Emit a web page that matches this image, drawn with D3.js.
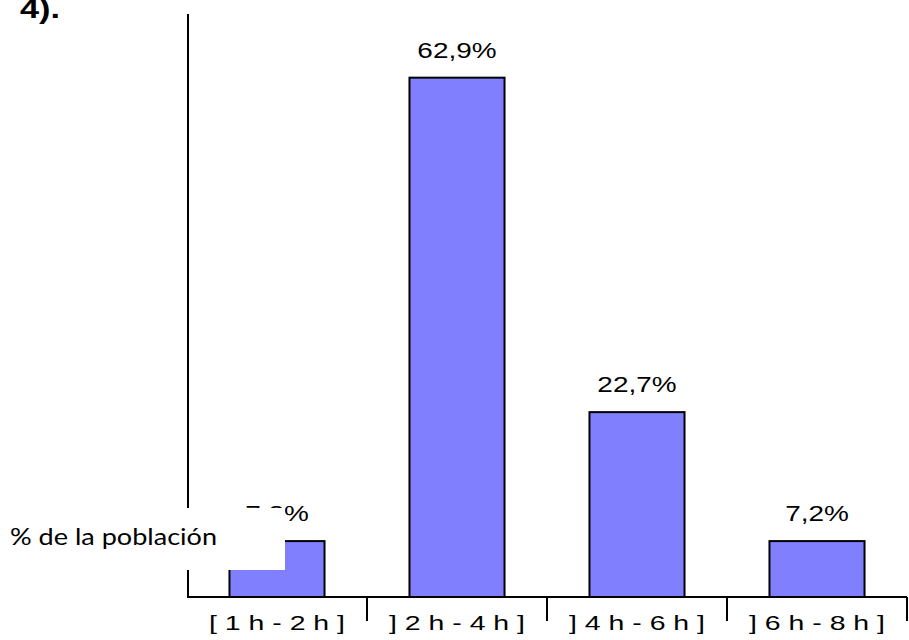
<!DOCTYPE html>
<html>
<head>
<meta charset="utf-8">
<script src="https://cdn.jsdelivr.net/npm/d3@7"></script>
<style>
  html, body { margin: 0; padding: 0; background: #fff; }
  svg { display: block; }
</style>
</head>
<body>
<svg id="chart" width="909" height="640"></svg>
<script>
// Sleep duration ranges and share of the population in each
const categories = ["[ 1 h - 2 h ]", "] 2 h - 4 h ]", "] 4 h - 6 h ]", "] 6 h - 8 h ]"];
const values = [7.2, 62.9, 22.7, 7.2];
const valueLabels = ["7,2%", "62,9%", "22,7%", "7,2%"];
const yDomain = [0, 70];
const axisTitle = "% de la población";
const headingText = "4).";

const svg = d3.select("#chart");
const armFont = "'Liberation Sans', Arial, sans-serif";

const x = d3.scaleBand()
  .domain(categories)
  .range([187, 907])
  .paddingInner(0.472)
  .paddingOuter(0.236);

const y = d3.scaleLinear().domain(yDomain).range([601, 18.6]);
const baseY = 597;   // horizontal axis line

// Widen text horizontally by a factor
function stretch(sel, factor) {
  sel.each(function () {
    const w = this.getComputedTextLength();
    d3.select(this).attr("textLength", w * factor).attr("lengthAdjust", "spacingAndGlyphs");
  });
}

// heading fragment at top-left
svg.append("text")
  .attr("x", 20).attr("y", 18)
  .attr("font-family", armFont).attr("font-weight", "bold").attr("font-size", 27)
  .attr("textLength", 40).attr("lengthAdjust", "spacingAndGlyphs")
  .text(headingText);

// bars
svg.append("g").selectAll("rect")
  .data(values)
  .join("rect")
  .attr("x", (d, i) => x(categories[i]))
  .attr("width", x.bandwidth())
  .attr("y", d => y(d))
  .attr("height", d => baseY - y(d))
  .attr("fill", "#8080FF")
  .attr("stroke", "#000")
  .attr("stroke-width", 2);

// value labels
svg.append("g").selectAll("text")
  .data(values)
  .join("text")
  .attr("x", (d, i) => x(categories[i]) + x.bandwidth() / 2)
  .attr("y", d => y(d) - 20)
  .attr("text-anchor", "middle")
  .attr("font-family", armFont)
  .attr("font-size", 22)
  .attr("fill", "#000")
  .text((d, i) => valueLabels[i])
  .call(stretch, 1.27);

// y axis line
svg.append("line")
  .attr("x1", 188).attr("x2", 188)
  .attr("y1", 14).attr("y2", baseY + 1)
  .attr("stroke", "#000").attr("stroke-width", 2);

// x axis line with ticks at the band boundaries
const xAxis = svg.append("g");
xAxis.append("line")
  .attr("x1", 187).attr("x2", 907)
  .attr("y1", baseY).attr("y2", baseY)
  .attr("stroke", "#000").attr("stroke-width", 2);
xAxis.selectAll("line.tick")
  .data(categories)
  .join("line")
  .attr("class", "tick")
  .attr("x1", d => x(d) - x.step() * x.paddingInner() / 2 + x.step())
  .attr("x2", d => x(d) - x.step() * x.paddingInner() / 2 + x.step())
  .attr("y1", baseY).attr("y2", baseY + 24)
  .attr("stroke", "#000").attr("stroke-width", 2);

// category labels
xAxis.selectAll("text")
  .data(categories)
  .join("text")
  .attr("x", d => x(d) + x.bandwidth() / 2)
  .attr("y", 630)
  .attr("text-anchor", "middle")
  .attr("font-family", armFont)
  .attr("font-size", 21)
  .attr("fill", "#000")
  .attr("textLength", 136)
  .attr("lengthAdjust", "spacingAndGlyphs")
  .text(d => d);

// axis title box overlapping the first bar
svg.append("rect")
  .attr("x", 0).attr("y", 508)
  .attr("width", 285).attr("height", 62)
  .attr("fill", "#fff");
svg.append("text")
  .attr("x", 10).attr("y", 545)
  .attr("font-family", "Lato, 'Open Sans', sans-serif")
  .attr("font-size", 23)
  .attr("fill", "#000")
  .attr("textLength", 207)
  .attr("lengthAdjust", "spacingAndGlyphs")
  .text(axisTitle);
</script>
</body>
</html>
